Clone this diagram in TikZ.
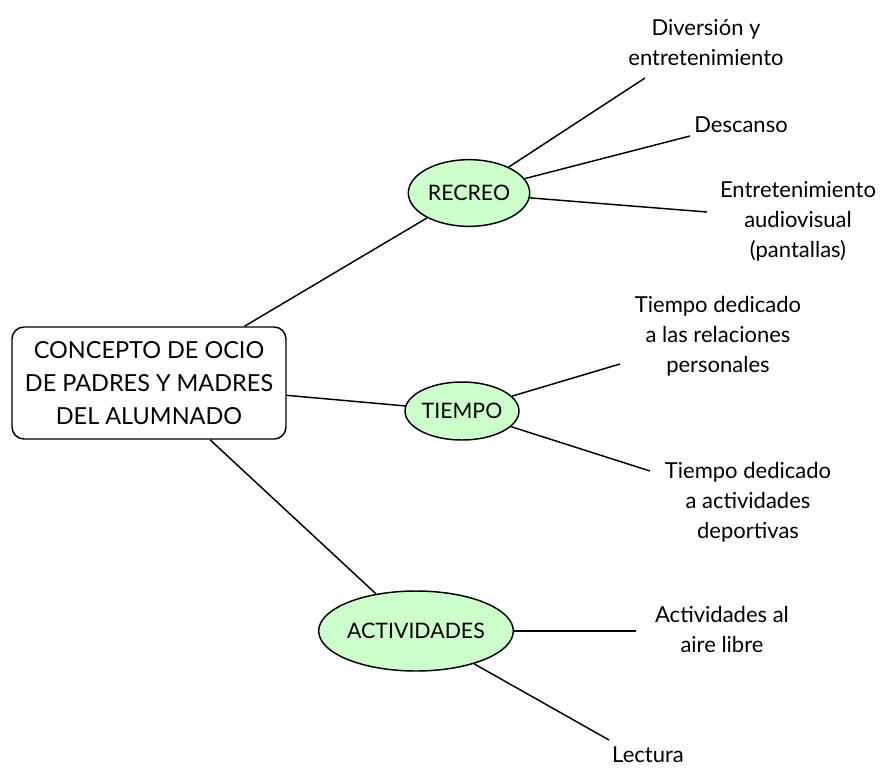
\documentclass[tikz,border=0pt]{standalone}
\usepackage{fontspec}
\setmainfont{Lato}
\usetikzlibrary{shapes.geometric}
\begin{document}
\begin{tikzpicture}[x=0.75pt,y=-0.75pt,
  every path/.style={line width=1.1pt},
  mainbox/.style={draw, rounded corners=9pt, minimum width=205.5pt, minimum height=84pt, inner sep=0pt, align=center, font=\fontsize{17.6}{24.75}\selectfont},
  topic/.style={ellipse, draw, fill=green!20, inner sep=0pt, font=\fontsize{16}{20}\selectfont},
  leaf/.style={align=center, inner sep=0pt, font=\fontsize{16.5}{22.5}\selectfont}]
\useasboundingbox (0,0) rectangle (882,772);
\node[mainbox] (box) at (149,383) {CONCEPTO DE OCIO\\DE PADRES Y MADRES\\DEL ALUMNADO};
\node[topic, minimum width=91pt, minimum height=50pt] (rec) at (469,193) {RECREO};
\node[topic, minimum width=84pt, minimum height=43.5pt] (tie) at (462,411) {TIEMPO};
\node[topic, minimum width=120pt, minimum height=60pt] (act) at (416,631) {ACTIVIDADES};

\coordinate (c1) at (645,78);
\coordinate (c2) at (690,136);
\coordinate (c3) at (707,212);
\coordinate (c4) at (620,364);
\coordinate (c5) at (650,471);
\coordinate (c6) at (636,631);
\coordinate (c7) at (609,740);

\node[leaf] (l1) at (706,43) {Diversión y\\entretenimiento};
\node[leaf] (l2) at (741,125) {Descanso};
\node[leaf] (l3) at (798,221) {Entretenimiento\\audiovisual\\(pantallas)};
\node[leaf] (l4) at (718,336) {Tiempo dedicado\\a las relaciones\\personales};
\node[leaf] (l5) at (748,502) {Tiempo dedicado\\a actividades\\deportivas};
\node[leaf] (l6) at (722,629) {Actividades al\\aire libre};
\node[leaf] (l7) at (648,755) {Lectura};

\draw (box) -- (rec);
\draw (box) -- (tie);
\draw (box) -- (act);
\draw (rec) -- (c1);
\draw (rec) -- (c2);
\draw (rec) -- (c3);
\draw (tie) -- (c4);
\draw (tie) -- (c5);
\draw (act) -- (c6);
\draw (act) -- (c7);
\end{tikzpicture}
\end{document}
